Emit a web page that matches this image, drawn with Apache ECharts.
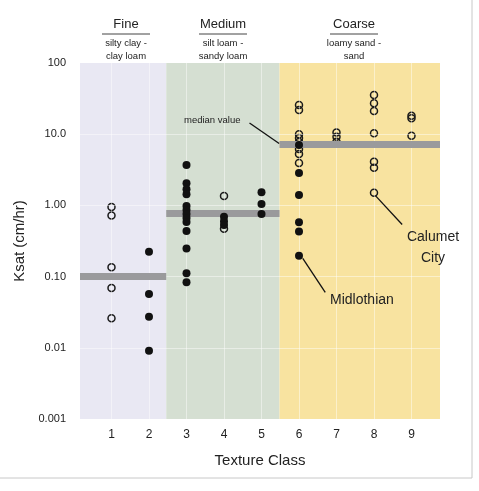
<!DOCTYPE html>
<html>
<head>
<meta charset="utf-8">
<script src="https://cdn.jsdelivr.net/npm/echarts@6/dist/echarts.min.js"></script>
<style>
  html, body { margin: 0; padding: 0; background: #fff; }
  #chart { width: 479px; height: 491px; }
</style>
</head>
<body>
<div id="chart"></div>
<script>
// texture classes on the x axis
const classes = [1, 2, 3, 4, 5, 6, 7, 8, 9];
const yTicks = [0.001, 0.01, 0.1, 1, 10, 100];
const yTickLabels = ["0.001", "0.01", "0.10", "1.00", "10.0", "100"];

// open circles
const openClass = [1, 1, 1, 1, 1, 4, 4, 6, 6, 6, 6, 6, 6, 6, 6, 7, 7, 7, 8, 8, 8, 8, 8, 8, 8, 9, 9, 9];
const openKsat = [0.95, 0.72, 0.135, 0.069, 0.026, 1.36, 0.47,
  25.7, 21.8, 10.0, 8.85, 7.77, 6.19, 5.27, 3.94,
  10.6, 9.2, 7.85,
  35.5, 27.2, 21.2, 10.3, 4.11, 3.39, 1.51,
  18.2, 16.7, 9.5];

// filled circles
const filledClass = [2, 2, 2, 2, 3, 3, 3, 3, 3, 3, 3, 3, 3, 3, 3, 3, 3, 4, 4, 4, 5, 5, 5, 6, 6, 6, 6, 6, 6];
const filledKsat = [0.224, 0.057, 0.0274, 0.0091,
  3.69, 2.04, 1.68, 1.43, 0.98, 0.86, 0.757, 0.665, 0.585, 0.437, 0.249, 0.111, 0.083,
  0.69, 0.60, 0.53,
  1.53, 1.05, 0.76,
  7.05, 2.85, 1.40, 0.58, 0.43, 0.197];

// texture groups: band edges (in class units) and median Ksat
const groupNames = ["Fine", "Medium", "Coarse"];
const groupSub1 = ["silty clay -", "silt loam -", "loamy sand -"];
const groupSub2 = ["clay loam", "sandy loam", "sand"];
const groupStart = [0.16, 2.46, 5.48];
const groupEnd = [2.46, 5.48, 9.76];
const groupMedian = [0.10, 0.77, 7.2];
const groupColors = ["#e9e8f3", "#d5dfd2", "#f8e3a0"];

const chart = echarts.init(document.getElementById("chart"));

const headerX = [126, 223, 354];
const headerGraphics = [];
groupNames.forEach((name, i) => {
  headerGraphics.push({
    type: "text", x: headerX[i], y: 18, z: 100,
    style: { text: name, font: "13px 'Liberation Sans', Arial, sans-serif", fill: "#222", align: "center", verticalAlign: "top" }
  });
  headerGraphics.push({
    type: "line", z: 100,
    shape: { x1: headerX[i] - 24, y1: 34, x2: headerX[i] + 24, y2: 34 },
    style: { stroke: "#444", lineWidth: 1 }
  });
  headerGraphics.push({
    type: "text", x: headerX[i], y: 37, z: 100,
    style: { text: groupSub1[i] + "\n" + groupSub2[i], font: "9.5px 'Liberation Sans', Arial, sans-serif", fill: "#222", align: "center", verticalAlign: "top", lineHeight: 13 }
  });
});

const annoFont = "14px 'Liberation Sans', Arial, sans-serif";

const option = {
  animation: false,
  backgroundColor: "#fff",
  grid: { left: 80, right: 39, top: 63, bottom: 72 },
  xAxis: {
    type: "value",
    min: 0.16,
    max: 9.76,
    name: "Texture Class",
    nameLocation: "middle",
    nameGap: 34,
    nameTextStyle: { fontSize: 15, color: "#222", fontFamily: "Liberation Sans" },
    axisLine: { show: false },
    axisTick: { show: false },
    splitLine: { show: false },
    axisLabel: {
      customValues: classes,
      margin: 10,
      fontSize: 12,
      color: "#222",
      fontFamily: "Liberation Sans"
    }
  },
  yAxis: {
    type: "log",
    logBase: 10,
    min: 0.001,
    max: 100,
    name: "Ksat (cm/hr)",
    nameLocation: "middle",
    nameGap: 50,
    nameTextStyle: { fontSize: 15, color: "#222", fontFamily: "Liberation Sans" },
    axisLine: { show: false },
    axisTick: { show: false },
    splitLine: { show: false },
    axisLabel: {
      margin: 14,
      fontSize: 11,
      color: "#222",
      fontFamily: "Liberation Sans",
      formatter: (v) => {
        const idx = yTicks.findIndex((t) => Math.abs(Math.log10(t) - Math.log10(v)) < 0.01);
        return idx >= 0 ? yTickLabels[idx] : "";
      }
    }
  },
  graphic: headerGraphics.concat([
    { type: "text", x: 184, y: 120, z: 100, style: { text: "median value", font: "9.5px 'Liberation Sans', Arial, sans-serif", fill: "#222", verticalAlign: "middle" } },
    { type: "text", x: 330, y: 300, z: 100, style: { text: "Midlothian", font: annoFont, fill: "#222", verticalAlign: "middle" } },
    { type: "text", x: 433, y: 227, z: 100, style: { text: "Calumet\nCity", font: annoFont, fill: "#222", align: "center", verticalAlign: "top", lineHeight: 21 } },
    { type: "line", z: 100, shape: { x1: 472, y1: 0, x2: 472, y2: 478 }, style: { stroke: "#c8c8c8", lineWidth: 1 } },
    { type: "line", z: 100, shape: { x1: 0, y1: 478, x2: 472, y2: 478 }, style: { stroke: "#c8c8c8", lineWidth: 1 } }
  ]),
  series: [
    {
      // texture bands
      type: "scatter",
      z: 1,
      data: [],
      silent: true,
      markArea: {
        silent: true,
        data: groupNames.map((n, i) => [
          { xAxis: groupStart[i], yAxis: 100, itemStyle: { color: groupColors[i], opacity: 1 } },
          { xAxis: groupEnd[i], yAxis: 0.001 }
        ])
      }
    },
    {
      // faint grid lines
      type: "scatter",
      z: 2,
      data: [],
      silent: true,
      markLine: {
        silent: true,
        symbol: "none",
        label: { show: false },
        lineStyle: { color: "rgba(255,255,255,0.45)", width: 1, type: "solid" },
        data: classes.map((c) => ({ xAxis: c }))
          .concat(yTicks.slice(1, -1).map((t) => ({ yAxis: t })))
      }
    },
    {
      // medians and leader lines
      type: "scatter",
      z: 3,
      data: [],
      silent: true,
      markLine: {
        silent: true,
        symbol: "none",
        label: { show: false },
        data: groupNames.map((n, i) => [
          { coord: [groupStart[i], groupMedian[i]], lineStyle: { color: "#9a9a9c", width: 7, type: "solid", opacity: 1 } },
          { coord: [groupEnd[i], groupMedian[i]] }
        ]).concat([
          [{ coord: [4.68, 14.4], lineStyle: { color: "#111", width: 1.3, type: "solid", opacity: 1 } }, { coord: [5.47, 7.4] }],
          [{ coord: [6.1, 0.18], lineStyle: { color: "#111", width: 1.3, type: "solid", opacity: 1 } }, { coord: [6.7, 0.06] }],
          [{ coord: [8.05, 1.35], lineStyle: { color: "#111", width: 1.3, type: "solid", opacity: 1 } }, { coord: [8.75, 0.54] }]
        ])
      }
    },
    {
      type: "scatter",
      z: 4,
      symbol: "circle",
      symbolSize: 7,
      itemStyle: { color: "rgba(0,0,0,0)", borderColor: "#1a1a1a", borderWidth: 1.5, opacity: 1 },
      data: openClass.map((c, i) => [c, openKsat[i]])
    },
    {
      type: "scatter",
      z: 5,
      symbol: "circle",
      symbolSize: 8,
      itemStyle: { color: "#111", opacity: 1 },
      data: filledClass.map((c, i) => [c, filledKsat[i]])
    }
  ]
};

chart.setOption(option);
</script>
</body>
</html>
